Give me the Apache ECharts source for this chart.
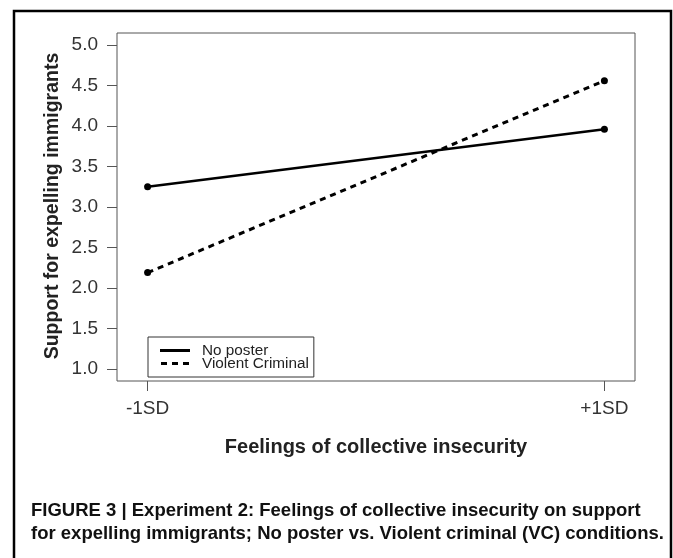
<!DOCTYPE html>
<html>
<head>
<meta charset="utf-8">
<script src="https://cdn.jsdelivr.net/npm/echarts@6/dist/echarts.min.js"></script>
<style>
html,body{margin:0;padding:0;background:#fff;}
#chart{width:673px;height:558px;}
</style>
</head>
<body>
<div id="chart"></div>
<script>
// Data
var xCategories = ['-1SD', '+1SD'];
var noPoster = [3.25, 3.96];
var violentCriminal = [2.19, 4.56];
var yTicks = [1.0, 1.5, 2.0, 2.5, 3.0, 3.5, 4.0, 4.5, 5.0];
var seriesNames = ['No poster', 'Violent Criminal'];
var yTitle = 'Support for expelling immigrants';
var xTitle = 'Feelings of collective insecurity';
var captionLines = [
  'FIGURE 3 | Experiment 2: Feelings of collective insecurity on support',
  'for expelling immigrants; No poster vs. Violent criminal (VC) conditions.'
];

var FONT = '"Liberation Sans", Arial, Helvetica, sans-serif';
var chart = echarts.init(document.getElementById('chart'), null, {renderer: 'canvas'});

function pairs(arr) { return arr.map(function (v, i) { return [i, v]; }); }

var option = {
  animation: false,
  backgroundColor: '#fff',
  grid: {
    left: 117, right: 38, top: 33, bottom: 177,
    show: true, borderColor: '#555', borderWidth: 1, backgroundColor: 'transparent'
  },
  xAxis: {
    type: 'value',
    min: -0.067, max: 1.067,
    axisLine: {show: false, onZero: false},
    splitLine: {show: false},
    axisTick: {show: true, length: 10, inside: false, customValues: [0, 1], lineStyle: {color: '#555', width: 1}},
    axisLabel: {
      customValues: [0, 1],
      margin: 18,
      fontFamily: FONT, fontSize: 19, color: '#333',
      formatter: function (v) { return xCategories[Math.round(v)]; }
    },
    name: xTitle,
    nameLocation: 'middle',
    nameGap: 56,
    nameTextStyle: {fontFamily: FONT, fontSize: 20, fontWeight: 'bold', color: '#222'}
  },
  yAxis: {
    type: 'value',
    min: 0.852, max: 5.148,
    axisLine: {show: false, onZero: false},
    splitLine: {show: false},
    axisTick: {show: true, length: 10, inside: false, customValues: yTicks, lineStyle: {color: '#555', width: 1}},
    axisLabel: {
      customValues: yTicks,
      margin: 19,
      fontFamily: FONT, fontSize: 19, color: '#333',
      formatter: function (v) { return v.toFixed(1); }
    }
  },
  legend: {
    left: 148, top: 337,
    orient: 'vertical',
    itemGap: -2,
    itemWidth: 30, itemHeight: 3,
    padding: [6, 5, 6, 12],
    borderColor: '#333', borderWidth: 1,
    textStyle: {fontFamily: FONT, fontSize: 15.3, color: '#222', lineHeight: 13, padding: [0, 0, 0, 7]},
    data: [
      {name: seriesNames[0], icon: 'path://M0,0h30v3h-30z'},
      {name: seriesNames[1], icon: 'path://M0,0h6v3h-6z M11,0h6v3h-6z M22,0h6v3h-6z'}
    ]
  },
  series: [
    {
      name: seriesNames[0], type: 'line', data: pairs(noPoster),
      color: '#000',
      symbol: 'circle', symbolSize: 7,
      lineStyle: {color: '#000', width: 2.5, type: 'solid'},
      itemStyle: {color: '#000'}
    },
    {
      name: seriesNames[1], type: 'line', data: pairs(violentCriminal),
      color: '#000',
      symbol: 'circle', symbolSize: 7,
      lineStyle: {color: '#000', width: 3, type: [6, 5]},
      itemStyle: {color: '#000'}
    }
  ],
  graphic: [
    {type: 'rect', shape: {x: 14, y: 11, width: 657, height: 570}, style: {fill: 'none', stroke: '#000', lineWidth: 2.5}, silent: true},
    {type: 'text', x: 53, y: 206, rotation: Math.PI / 2, silent: true,
      style: {text: yTitle, font: 'bold 19.5px ' + FONT, fill: '#222', align: 'center', verticalAlign: 'middle'}},
    {type: 'text', x: 31, y: 511, silent: true,
      style: {text: captionLines[0], font: 'bold 18.5px ' + FONT, fill: '#111', align: 'left', verticalAlign: 'middle'}},
    {type: 'text', x: 31, y: 534, silent: true,
      style: {text: captionLines[1], font: 'bold 18.5px ' + FONT, fill: '#111', align: 'left', verticalAlign: 'middle'}}
  ]
};
chart.setOption(option);
</script>
</body>
</html>
